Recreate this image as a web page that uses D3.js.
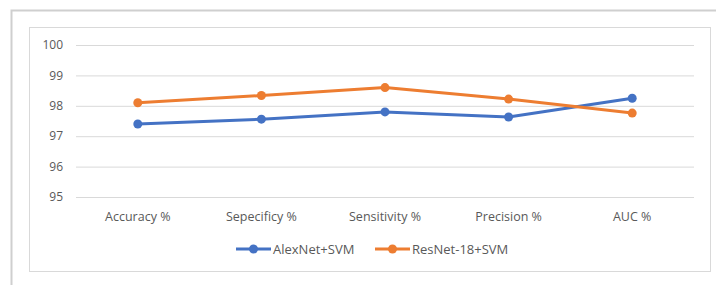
<!DOCTYPE html>
<html>
<head>
	<style type="text/css">
		body { margin: 0; background: #fff; }
		svg text { font-family: "Open Sans", sans-serif; fill: #595959; }
		.grid line { stroke: #d9d9d9; stroke-width: 1; }
		.grid path { display: none; }
	</style>
	<script src="https://d3js.org/d3.v7.min.js"></script>
</head>
<body>
<script type="text/javascript">
	var categories = ["Accuracy %", "Sepecificy %", "Sensitivity %", "Precision %", "AUC %"];
	var alexNet = [97.40, 97.56, 97.80, 97.63, 98.25];
	var resNet = [98.10, 98.34, 98.60, 98.22, 97.76];
	var yTicks = [95, 96, 97, 98, 99, 100];
	var seriesNames = ["AlexNet+SVM", "ResNet-18+SVM"];
	var colors = ["#4472C4", "#ED7D31"];

	var svg = d3.select("body").append("svg")
		.attr("width", 716)
		.attr("height", 285);

	// outer frame (runs past the picture right and bottom)
	svg.append("rect")
		.attr("x", 11.5).attr("y", 10.5)
		.attr("width", 720).attr("height", 290)
		.attr("fill", "none").attr("stroke", "#cfcfcf").attr("stroke-width", 2);

	// chart area frame
	svg.append("rect")
		.attr("x", 29.5).attr("y", 27.5)
		.attr("width", 681).attr("height", 244)
		.attr("fill", "#fff").attr("stroke", "#d9d9d9");

	var x = d3.scaleBand().domain(categories).range([76, 694]);
	var y = d3.scaleLinear().domain([95, 100]).range([197, 45]);

	svg.append("g")
		.attr("class", "grid")
		.attr("transform", "translate(76,0)")
		.call(d3.axisLeft(y).tickValues(yTicks).tickSize(-618).tickFormat(""));

	svg.selectAll(".ylab")
		.data(yTicks)
		.enter().append("text")
			.attr("class", "ylab")
			.attr("x", 63)
			.attr("y", function(d) { return y(d); })
			.attr("dy", "0.35em")
			.attr("text-anchor", "end")
			.style("font-size", "12px")
			.text(function(d) { return d; });

	svg.selectAll(".xlab")
		.data(categories)
		.enter().append("text")
			.attr("class", "xlab")
			.attr("x", function(d) { return x(d) + x.bandwidth() / 2; })
			.attr("y", 217)
			.attr("dy", "0.35em")
			.attr("text-anchor", "middle")
			.style("font-size", "12.5px")
			.text(function(d) { return d; });

	var line = d3.line()
		.x(function(d, i) { return x(categories[i]) + x.bandwidth() / 2; })
		.y(function(d) { return y(d); });

	[alexNet, resNet].forEach(function(vals, k) {
		svg.append("path")
			.datum(vals)
			.attr("d", line)
			.attr("fill", "none")
			.attr("stroke", colors[k])
			.attr("stroke-width", 3)
			.attr("stroke-linejoin", "round");

		svg.selectAll(".dot" + k)
			.data(vals)
			.enter().append("circle")
				.attr("class", "dot" + k)
				.attr("cx", function(d, i) { return x(categories[i]) + x.bandwidth() / 2; })
				.attr("cy", function(d) { return y(d); })
				.attr("r", 4.5)
				.attr("fill", colors[k]);
	});

	// legend
	var legendX = [236, 375];
	seriesNames.forEach(function(name, k) {
		var g = svg.append("g").attr("transform", "translate(" + legendX[k] + ",249)");
		g.append("line")
			.attr("x1", 0).attr("x2", 35)
			.attr("stroke", colors[k]).attr("stroke-width", 3);
		g.append("circle")
			.attr("cx", 17.5).attr("r", 4.5)
			.attr("fill", colors[k]);
		g.append("text")
			.attr("x", 37)
			.attr("dy", "0.35em")
			.style("font-size", "13px")
			.text(name);
	});
</script>
</body>
</html>
